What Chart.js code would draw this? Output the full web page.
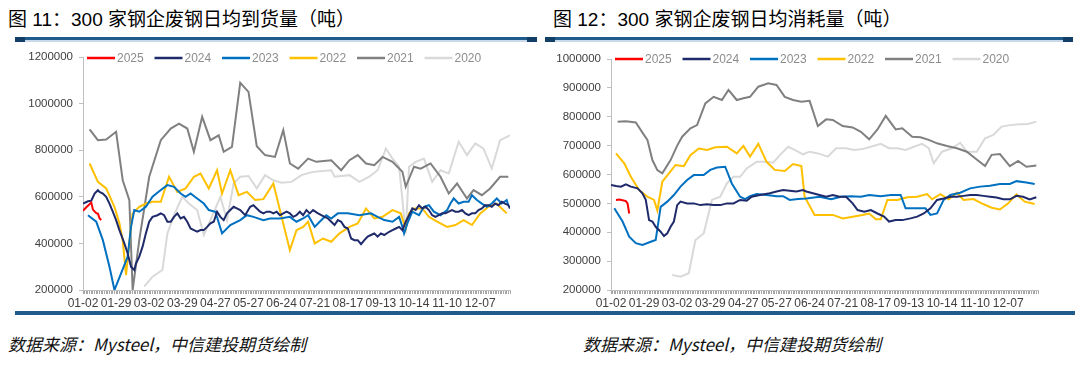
<!DOCTYPE html>
<html>
<head>
<meta charset="utf-8">
<script src="https://cdn.jsdelivr.net/npm/chart.js@4.4.1/dist/chart.umd.min.js"></script>
<style>
  body { margin: 0; background: #fff; width: 1080px; height: 366px; position: relative; overflow: hidden; }
  .title { position: absolute; top: 4px; font-size: 19px; color: #000; white-space: nowrap;
           font-family: "Liberation Sans", "Noto Sans CJK SC", sans-serif; }
  .rule { position: absolute; top: 37px; height: 3px; background: #1f5c8c; border-bottom: 2px solid #c9dbea; }
  .rule:before, .rule:after { content: ""; position: absolute; top: 0; width: 10px; height: 5px; background: #123f66; }
  .rule:before { left: 0; } .rule:after { right: 0; }
  .bottom { position: absolute; top: 311px; left: 15px; width: 1060px; height: 4px; background: #1f5c8c; }
  .source { position: absolute; top: 331px; font-size: 17px; font-style: italic; color: #111; white-space: nowrap;
            font-family: "Noto Sans CJK SC", sans-serif; }
  canvas { position: absolute; top: 40px; }
</style>
</head>
<body>
<div class="title" style="left:8px">图 11：300 家钢企废钢日均到货量（吨）</div>
<div class="title" style="left:553px">图 12：300 家钢企废钢日均消耗量（吨）</div>
<div class="rule" style="left:15px;width:522px"></div>
<div class="rule" style="left:545px;width:528px"></div>
<canvas id="arrivalChart" width="530" height="272" style="left:0"></canvas>
<canvas id="consumeChart" width="530" height="272" style="left:540px"></canvas>
<div class="bottom"></div>
<div class="source" style="left:8px">数据来源：Mysteel，中信建投期货绘制</div>
<div class="source" style="left:583px">数据来源：Mysteel，中信建投期货绘制</div>

<script>
// --- DATA (x = trading-day index, labels every 20 days) ---
const xLabels = ["01-02","01-29","03-02","03-29","04-27","05-27","06-24","07-21","08-17","09-13","10-14","11-10","12-07"];
const years = ["2025","2024","2023","2022","2021","2020"];
const yearColors = ["#ff0000","#1f2a6b","#0070c0","#ffc000","#808080","#d9d9d9"];

// chart 11: daily arrivals
const arrival2025 = [[0,540000],[2,555000],[5,575000],[6,545000],[8,530000],[9,528000],[10,508000],[11,500000]];
const arrival2024 = [[0,571000],[3,581000],[5,583000],[7,614000],[9,628000],[10,621000],[12,614000],[14,600000],[16,571000],[18,536000],[20,500000],[22,457000],[25,400000],[27,357000],[29,300000],[31,286000],[32,314000],[34,343000],[36,386000],[38,443000],[40,493000],[42,514000],[45,521000],[47,529000],[49,521000],[51,493000],[53,493000],[55,514000],[57,529000],[59,507000],[61,514000],[63,493000],[65,464000],[67,457000],[69,450000],[71,457000],[73,457000],[75,471000],[77,486000],[79,493000],[81,536000],[83,514000],[85,500000],[87,529000],[89,543000],[91,557000],[93,550000],[95,543000],[98,521000],[101,557000],[103,564000],[105,550000],[107,536000],[109,529000],[111,536000],[113,536000],[115,529000],[117,536000],[119,521000],[121,529000],[123,536000],[125,529000],[127,514000],[129,521000],[131,536000],[133,521000],[135,543000],[137,529000],[139,543000],[142,529000],[144,521000],[146,514000],[148,507000],[150,493000],[152,479000],[154,500000],[156,493000],[158,471000],[160,464000],[162,421000],[164,414000],[166,414000],[168,397000],[170,414000],[172,429000],[174,436000],[176,443000],[178,429000],[180,443000],[182,436000],[185,450000],[187,457000],[189,464000],[191,471000],[193,457000],[195,493000],[197,521000],[199,550000],[201,543000],[203,564000],[205,550000],[207,557000],[209,543000],[211,521000],[213,514000],[215,521000],[217,529000],[219,529000],[221,536000],[223,543000],[225,536000],[227,536000],[229,543000],[231,529000],[233,521000],[235,529000],[237,529000],[239,543000],[241,550000],[243,564000],[245,564000],[247,557000],[249,571000],[251,564000],[253,579000],[255,571000],[257,564000],[258,550000]];
const arrival2023 = [[3,521000],[8,493000],[12,414000],[16,300000],[19,200000],[23,271000],[27,343000],[29,471000],[31,543000],[34,536000],[38,557000],[42,600000],[47,629000],[51,650000],[55,643000],[59,614000],[62,600000],[65,614000],[69,593000],[73,571000],[76,543000],[80,536000],[84,443000],[89,479000],[95,500000],[99,521000],[103,514000],[109,500000],[113,507000],[119,507000],[125,514000],[129,493000],[133,507000],[136,521000],[140,471000],[143,493000],[147,521000],[150,507000],[154,529000],[160,529000],[167,521000],[174,529000],[178,514000],[182,500000],[187,493000],[191,514000],[193,471000],[194,443000],[196,486000],[199,536000],[203,521000],[206,557000],[209,564000],[212,536000],[216,521000],[220,543000],[222,571000],[224,593000],[227,571000],[230,579000],[233,579000],[235,607000],[238,586000],[241,571000],[244,557000],[247,571000],[250,593000],[253,571000],[256,586000],[257,564000]];
const arrival2022 = [[4,743000],[9,664000],[14,636000],[19,557000],[22,486000],[24,414000],[26,264000],[29,471000],[30,529000],[34,557000],[38,571000],[42,579000],[47,579000],[52,686000],[57,621000],[62,636000],[67,686000],[71,700000],[76,636000],[81,714000],[84,614000],[89,714000],[94,607000],[99,621000],[104,586000],[109,590000],[115,657000],[125,371000],[129,457000],[133,471000],[136,493000],[140,400000],[145,421000],[150,407000],[155,443000],[161,471000],[166,486000],[171,550000],[176,507000],[181,514000],[187,543000],[192,529000],[195,464000],[197,529000],[200,550000],[205,550000],[209,514000],[214,493000],[220,471000],[225,479000],[230,500000],[235,479000],[240,529000],[245,557000],[250,571000],[253,550000],[256,529000]];
const arrival2021 = [[4,889000],[9,843000],[14,846000],[20,879000],[24,671000],[28,586000],[30,200000],[34,414000],[40,686000],[47,843000],[53,893000],[58,914000],[63,893000],[67,793000],[72,943000],[77,843000],[82,864000],[85,793000],[90,814000],[95,1089000],[100,1050000],[105,817000],[110,779000],[116,771000],[121,886000],[125,743000],[130,721000],[136,764000],[141,750000],[150,757000],[156,714000],[161,757000],[166,779000],[171,743000],[176,736000],[181,771000],[187,750000],[193,707000],[195,643000],[200,729000],[204,721000],[210,743000],[216,686000],[221,614000],[226,657000],[232,593000],[236,629000],[241,607000],[246,636000],[252,686000],[257,686000]];
const arrival2020 = [[37,214000],[42,257000],[48,286000],[51,443000],[55,521000],[60,600000],[64,571000],[69,543000],[73,436000],[77,500000],[83,600000],[87,500000],[91,657000],[95,686000],[100,689000],[105,636000],[110,693000],[115,671000],[120,660000],[126,664000],[132,693000],[139,707000],[150,714000],[152,686000],[161,693000],[167,664000],[173,686000],[178,714000],[183,807000],[187,764000],[191,729000],[195,443000],[197,729000],[201,750000],[206,764000],[211,664000],[216,714000],[221,700000],[227,836000],[232,779000],[237,829000],[242,807000],[247,721000],[252,843000],[258,864000]];

// chart 12: daily consumption
const consume2025 = [[3,512000],[5,513000],[7,511000],[9,508000],[10,500000],[11,465000]];
const consume2024 = [[0,564000],[3,560000],[6,558000],[9,566000],[12,558000],[16,552000],[19,535000],[21,512000],[23,442000],[25,437000],[27,419000],[30,402000],[32,387000],[34,396000],[36,419000],[38,437000],[40,494000],[42,506000],[46,500000],[50,500000],[54,494000],[58,497000],[62,494000],[66,494000],[70,500000],[74,500000],[78,512000],[82,509000],[85,523000],[90,529000],[96,535000],[100,541000],[104,546000],[108,544000],[112,541000],[116,546000],[118,541000],[122,535000],[126,529000],[130,523000],[134,529000],[138,523000],[142,523000],[146,500000],[149,477000],[153,471000],[157,477000],[161,465000],[165,454000],[168,437000],[172,442000],[176,442000],[181,448000],[185,454000],[189,465000],[193,483000],[197,512000],[201,517000],[205,523000],[209,523000],[213,526000],[217,529000],[221,529000],[225,526000],[229,523000],[233,520000],[237,514000],[241,514000],[245,526000],[249,523000],[253,514000],[257,521000]];
const consume2023 = [[2,483000],[7,437000],[11,385000],[15,362000],[19,356000],[24,367000],[27,373000],[30,488000],[34,506000],[38,529000],[42,558000],[46,581000],[50,598000],[56,598000],[60,616000],[64,624000],[69,627000],[73,569000],[78,523000],[81,515000],[84,525000],[88,532000],[94,529000],[100,525000],[104,525000],[108,512000],[113,515000],[118,517000],[126,523000],[133,514000],[139,523000],[145,525000],[151,523000],[156,529000],[163,525000],[169,529000],[175,529000],[178,483000],[183,483000],[190,483000],[193,460000],[197,465000],[201,512000],[205,529000],[211,537000],[217,552000],[223,558000],[229,561000],[235,567000],[241,567000],[245,577000],[251,572000],[256,567000]];
const consume2022 = [[3,673000],[8,639000],[12,592000],[17,546000],[22,523000],[26,512000],[28,475000],[31,575000],[35,604000],[39,633000],[44,629000],[48,667000],[53,690000],[58,685000],[63,694000],[70,696000],[76,673000],[80,699000],[84,662000],[89,706000],[94,644000],[99,616000],[105,612000],[110,636000],[115,629000],[117,523000],[123,460000],[130,460000],[134,460000],[140,448000],[146,454000],[152,460000],[156,465000],[160,445000],[163,445000],[167,512000],[173,512000],[179,521000],[185,523000],[191,532000],[194,514000],[199,532000],[204,514000],[209,537000],[213,512000],[219,515000],[224,500000],[230,485000],[235,479000],[240,500000],[245,531000],[250,506000],[256,498000]];
const consume2021 = [[4,783000],[9,784000],[15,780000],[19,745000],[22,720000],[25,650000],[28,615000],[31,604000],[36,650000],[40,700000],[43,731000],[48,760000],[52,771000],[57,846000],[62,869000],[67,858000],[71,893000],[76,858000],[80,864000],[84,869000],[89,904000],[95,916000],[100,910000],[105,869000],[110,858000],[115,852000],[120,855000],[125,768000],[130,791000],[134,789000],[140,768000],[146,763000],[151,748000],[156,722000],[161,756000],[166,803000],[172,756000],[176,760000],[182,731000],[187,729000],[192,720000],[197,708000],[203,699000],[209,691000],[215,679000],[220,656000],[226,629000],[230,668000],[235,671000],[241,629000],[246,647000],[251,627000],[257,631000]];
const consume2020 = [[37,252000],[42,246000],[47,258000],[51,373000],[56,396000],[61,512000],[66,523000],[70,569000],[74,592000],[78,592000],[82,621000],[88,644000],[94,644000],[98,641000],[102,667000],[107,696000],[111,685000],[116,670000],[120,679000],[125,673000],[131,662000],[136,691000],[142,691000],[147,685000],[152,688000],[157,696000],[163,706000],[168,691000],[173,691000],[178,685000],[183,696000],[188,706000],[192,691000],[195,639000],[200,679000],[206,691000],[211,710000],[215,679000],[221,679000],[226,725000],[231,737000],[236,766000],[241,771000],[247,774000],[252,775000],[257,783000]];

Chart.defaults.font.family = '"Liberation Sans", Arial, sans-serif';
Chart.defaults.color = '#404040';

// legend drawn inside the plot, Excel style
const yearLegend = {
    id: 'yearLegend',
    afterDraw(chart, args, opts) {
        const ctx = chart.ctx;
        ctx.save();
        ctx.font = '12px "Liberation Sans", Arial';
        ctx.textBaseline = 'middle';
        chart.data.datasets.forEach((ds, i) => {
            const x = opts.x + i * opts.gap;
            ctx.strokeStyle = ds.borderColor;
            ctx.lineWidth = 2.5;
            ctx.beginPath();
            ctx.moveTo(x, opts.y);
            ctx.lineTo(x + 28, opts.y);
            ctx.stroke();
            ctx.fillStyle = '#8c8c8c';
            ctx.fillText(ds.label, x + 30, opts.y + 1);
        });
        ctx.restore();
    }
};

function makeChart(id, series, yMin, yMax, yStep, axisWidth, padTop, padRight, legendX, legendY) {
    const ctx = document.getElementById(id).getContext('2d');
    return new Chart(ctx, {
        type: 'line',
        data: {
            datasets: series.map((s, i) => ({
                label: years[i],
                data: s,
                borderColor: yearColors[i],
                backgroundColor: yearColors[i],
                borderWidth: 2,
                pointRadius: 0,
                tension: 0
            }))
        },
        plugins: [yearLegend],
        options: {
            responsive: false,
            animation: false,
            layout: { padding: { top: padTop, right: padRight, left: 0, bottom: 0 } },
            plugins: {
                legend: { display: false },
                tooltip: { enabled: false },
                yearLegend: { x: legendX, y: legendY, gap: 67.5 }
            },
            scales: {
                x: {
                    type: 'linear',
                    min: 0,
                    max: 258,
                    border: { color: '#bfbfbf', width: 1 },
                    grid: { drawOnChartArea: false, drawTicks: true, tickLength: 4, color: '#a6a6a6' },
                    ticks: {
                        stepSize: 1,
                        autoSkip: false,
                        maxRotation: 0,
                        minRotation: 0,
                        padding: 2,
                        font: { size: 12 },
                        color: '#404040',
                        callback: v => (v % 20 === 0 ? (xLabels[v / 20] || '') : '')
                    },
                    afterFit: scale => { scale.height = 22; }
                },
                y: {
                    min: yMin,
                    max: yMax,
                    border: { color: '#bfbfbf', width: 1 },
                    grid: { drawOnChartArea: false, drawTicks: true, tickLength: 4, color: '#bfbfbf' },
                    ticks: {
                        stepSize: yStep,
                        padding: 6,
                        font: { size: 11.5 },
                        color: '#404040',
                        callback: v => String(v)
                    },
                    afterFit: scale => { scale.width = axisWidth; }
                }
            }
        }
    });
}

makeChart('arrivalChart',
    [arrival2025, arrival2024, arrival2023, arrival2022, arrival2021, arrival2020],
    200000, 1200000, 200000, 83, 17, 20, 87, 18);
makeChart('consumeChart',
    [consume2025, consume2024, consume2023, consume2022, consume2021, consume2020],
    200000, 1000000, 100000, 71, 19, 32, 75, 19);
</script>
</body>
</html>
